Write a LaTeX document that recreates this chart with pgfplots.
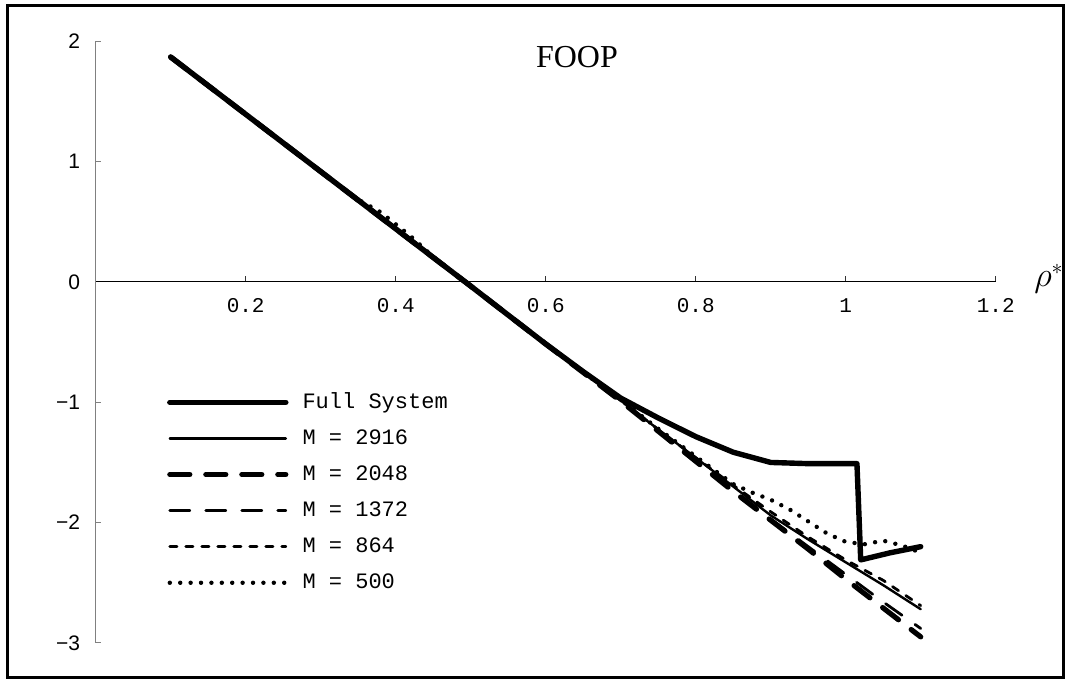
\documentclass[border=0pt]{standalone}
\usepackage{fontspec}
\setmainfont{Liberation Serif}
\newfontfamily\monofont{Liberation Mono}
\newfontfamily\sansfont{Liberation Sans}
\usepackage{pgfplots}
\usepackage{pgfplotstable}
\pgfplotsset{compat=1.18}

% order parameter against reduced density
\pgfplotstableread{
x y
0.10 1.870
0.15 1.632
0.20 1.394
0.25 1.156
0.30 0.918
0.35 0.680
0.40 0.442
0.45 0.204
0.50 -0.034
0.55 -0.275
0.60 -0.515
0.65 -0.745
0.70 -0.965
0.75 -1.130
0.80 -1.285
0.85 -1.415
0.90 -1.500
0.95 -1.510
1.015 -1.510
1.020 -2.310
1.060 -2.250
1.100 -2.200
}\full
\pgfplotstableread{
x y
0.10 1.870
0.15 1.632
0.20 1.394
0.25 1.156
0.30 0.918
0.35 0.680
0.40 0.442
0.45 0.204
0.50 -0.034
0.55 -0.275
0.60 -0.515
0.65 -0.750
0.70 -0.985
0.75 -1.225
0.80 -1.460
0.85 -1.700
0.90 -1.940
0.95 -2.140
1.00 -2.330
1.05 -2.520
1.10 -2.720
}\mA
\pgfplotstableread{
x y
0.10 1.870
0.15 1.632
0.20 1.394
0.25 1.156
0.30 0.918
0.35 0.680
0.40 0.442
0.45 0.204
0.50 -0.034
0.55 -0.275
0.60 -0.515
0.65 -0.752
0.70 -0.990
0.75 -1.240
0.80 -1.490
0.85 -1.740
0.90 -1.980
0.95 -2.220
1.00 -2.470
1.05 -2.710
1.10 -2.950
}\mB
\pgfplotstableread{
x y
0.10 1.870
0.15 1.632
0.20 1.394
0.25 1.156
0.30 0.918
0.35 0.680
0.40 0.442
0.45 0.204
0.50 -0.034
0.55 -0.275
0.60 -0.515
0.65 -0.752
0.70 -0.990
0.75 -1.235
0.80 -1.480
0.85 -1.725
0.90 -1.970
0.95 -2.200
1.00 -2.430
1.05 -2.660
1.10 -2.880
}\mC
\pgfplotstableread{
x y
0.10 1.870
0.15 1.632
0.20 1.394
0.25 1.156
0.30 0.918
0.35 0.680
0.40 0.442
0.45 0.204
0.50 -0.034
0.55 -0.275
0.60 -0.515
0.65 -0.750
0.70 -0.985
0.75 -1.225
0.80 -1.460
0.85 -1.690
0.90 -1.910
0.95 -2.120
1.00 -2.310
1.05 -2.480
1.10 -2.690
}\mD
\pgfplotstableread{
x y
0.10 1.870
0.15 1.632
0.20 1.394
0.25 1.156
0.30 0.918
0.35 0.685
0.38 0.580
0.42 0.380
0.45 0.210
0.50 -0.034
0.55 -0.275
0.60 -0.515
0.65 -0.750
0.70 -0.980
0.75 -1.220
0.80 -1.450
0.85 -1.680
0.875 -1.750
0.90 -1.810
0.925 -1.890
0.95 -1.990
0.975 -2.090
1.00 -2.160
1.025 -2.180
1.05 -2.150
1.075 -2.190
1.10 -2.250
}\mE

\begin{document}
\begin{tikzpicture}
\begin{axis}[
  x=375pt, y=60.15pt,
  xmin=0, xmax=1.2, ymin=-3, ymax=2,
  axis lines=middle,
  enlargelimits=false,
  clip=false,
  axis line style={-},
  x axis line style={black, line width=0.5pt},
  y axis line style={gray, line width=0.6pt},
  xtick={0.2,0.4,0.6,0.8,1,1.2},
  xticklabels={0.2,0.4,0.6,0.8,1,1.2},
  ytick={-3,-2,-1,0,1,2},
  yticklabels={−3,−2,−1,0,1,2},
  hide obscured x ticks=false,
  hide obscured y ticks=false,
  tick align=center,
  major tick length=2.8pt,
  xtick style={black!80, line width=0.5pt, yshift=1.4pt},
  ytick style={gray, line width=0.5pt, xshift=1.4pt},
  xticklabel style={font=\monofont\fontsize{10.5}{10.5}\selectfont, anchor=center, yshift=-10.5pt, inner sep=0pt},
  yticklabel style={font=\sansfont\fontsize{10.5}{10.5}\selectfont, anchor=east, xshift=-6.2pt, inner sep=0pt},
  legend style={draw=none, fill=none, inner sep=0pt,
    at={(axis cs:0.0947,-1.75)}, anchor=west,
    row sep=10.05pt, column sep=7pt,
    font=\monofont\fontsize{11}{11}\selectfont,
    nodes={inner sep=0pt, text height=7pt, text depth=1pt}},
  legend cell align=left,
  legend image code/.code={\draw[#1] (0pt,0pt) -- (58pt,0pt);},
  every axis plot/.append style={black, line cap=round, line join=round},
]
\addplot[line width=2.7pt] table {\full};
\addlegendentry{Full System}
\addplot[line width=1.2pt] table {\mA};
\addlegendentry{M = 2916}
\addplot[line width=2.6pt, dash pattern=on 10pt off 8pt] table {\mB};
\addlegendentry{M = 2048}
\addplot[line width=1.4pt, dash pattern=on 10pt off 8pt] table {\mC};
\addlegendentry{M = 1372}
\addplot[line width=1.4pt, dash pattern=on 3.6pt off 4.4pt] table {\mD};
\addlegendentry{M = 864}
\addplot[line width=2.2pt, dash pattern=on 0pt off 5.2pt] table {\mE};
\addlegendentry{M = 500}

\node[font=\fontsize{16}{16}\selectfont] at (axis cs:0.6417,1.87) {FOOP};
\node[font=\fontsize{16}{16}\selectfont] at (axis cs:1.271,0.025) {$\rho^*$};

\draw[line width=1.5pt] (axis cs:-0.1176,2.2984) rectangle (axis cs:1.2904,-3.2876);
\coordinate (bbA) at (axis cs:-0.1276,2.3441);
\coordinate (bbB) at (axis cs:1.2924,-3.3001);
\end{axis}
\pgfresetboundingbox
\useasboundingbox (bbA) rectangle (bbB);
\end{tikzpicture}
\end{document}
